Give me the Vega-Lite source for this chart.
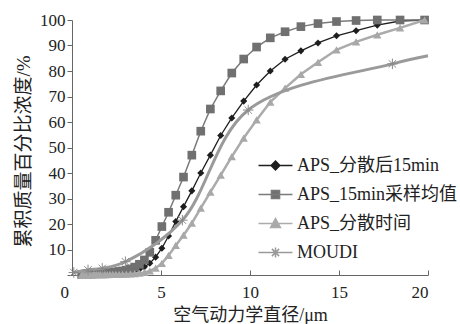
{
  "$schema": "https://vega.github.io/schema/vega-lite/v6.json",
  "width": 356,
  "height": 255,
  "autosize": {"type": "none"},
  "padding": {"left": 72, "top": 20, "right": 32, "bottom": 49},
  "background": "white",
  "config": {
    "view": {"stroke": null},
    "axis": {"grid": false, "labelFont": "Liberation Serif", "labelFontSize": 17, "labelColor": "#222", "titleFont": "Liberation Serif, Noto Sans CJK SC", "titleFontSize": 18, "titleFontWeight": "normal", "titleColor": "#222", "domainColor": "#666", "tickColor": "#666"},
    "legend": {"labelFont": "Liberation Serif, Noto Sans CJK SC", "labelFontSize": 18, "labelColor": "#222", "labelLimit": 400, "padding": 0, "rowPadding": 4, "labelOffset": 6, "symbolSize": 841}
  },
  "datasets": {
    "pts": [
      {"series": "D", "d": 0.542, "v": 0.0}, {"series": "D", "d": 0.583, "v": 0.0}, {"series": "D", "d": 0.626, "v": 0.0}, {"series": "D", "d": 0.673, "v": 0.0}, {"series": "D", "d": 0.723, "v": 0.0}, {"series": "D", "d": 0.777, "v": 0.1}, {"series": "D", "d": 0.835, "v": 0.1}, {"series": "D", "d": 0.898, "v": 0.1}, {"series": "D", "d": 0.965, "v": 0.1}, {"series": "D", "d": 1.037, "v": 0.1}, {"series": "D", "d": 1.114, "v": 0.1}, {"series": "D", "d": 1.197, "v": 0.2}, {"series": "D", "d": 1.286, "v": 0.2}, {"series": "D", "d": 1.382, "v": 0.2}, {"series": "D", "d": 1.486, "v": 0.2}, {"series": "D", "d": 1.596, "v": 0.3}, {"series": "D", "d": 1.715, "v": 0.3}, {"series": "D", "d": 1.843, "v": 0.3}, {"series": "D", "d": 1.981, "v": 0.4}, {"series": "D", "d": 2.129, "v": 0.4}, {"series": "D", "d": 2.288, "v": 0.5}, {"series": "D", "d": 2.458, "v": 0.6}, {"series": "D", "d": 2.642, "v": 0.7}, {"series": "D", "d": 2.839, "v": 0.8}, {"series": "D", "d": 3.051, "v": 1.0}, {"series": "D", "d": 3.278, "v": 1.3}, {"series": "D", "d": 3.523, "v": 1.7}, {"series": "D", "d": 3.786, "v": 2.3}, {"series": "D", "d": 4.068, "v": 3.2}, {"series": "D", "d": 4.371, "v": 4.6}, {"series": "D", "d": 4.698, "v": 7.0}, {"series": "D", "d": 5.048, "v": 10.5}, {"series": "D", "d": 5.425, "v": 15.3}, {"series": "D", "d": 5.829, "v": 21.0}, {"series": "D", "d": 6.264, "v": 26.8}, {"series": "D", "d": 6.732, "v": 33.0}, {"series": "D", "d": 7.234, "v": 40.0}, {"series": "D", "d": 7.774, "v": 47.0}, {"series": "D", "d": 8.354, "v": 54.7}, {"series": "D", "d": 8.977, "v": 61.6}, {"series": "D", "d": 9.647, "v": 68.2}, {"series": "D", "d": 10.37, "v": 74.5}, {"series": "D", "d": 11.14, "v": 80.0}, {"series": "D", "d": 11.97, "v": 84.6}, {"series": "D", "d": 12.86, "v": 87.9}, {"series": "D", "d": 13.82, "v": 91.0}, {"series": "D", "d": 14.86, "v": 93.8}, {"series": "D", "d": 15.96, "v": 95.8}, {"series": "D", "d": 17.15, "v": 98.0}, {"series": "D", "d": 18.43, "v": 99.6}, {"series": "D", "d": 19.81, "v": 100},
      {"series": "S", "d": 0.542, "v": 0.2}, {"series": "S", "d": 0.583, "v": 0.2}, {"series": "S", "d": 0.626, "v": 0.2}, {"series": "S", "d": 0.673, "v": 0.3}, {"series": "S", "d": 0.723, "v": 0.3}, {"series": "S", "d": 0.777, "v": 0.3}, {"series": "S", "d": 0.835, "v": 0.3}, {"series": "S", "d": 0.898, "v": 0.4}, {"series": "S", "d": 0.965, "v": 0.4}, {"series": "S", "d": 1.037, "v": 0.4}, {"series": "S", "d": 1.114, "v": 0.5}, {"series": "S", "d": 1.197, "v": 0.5}, {"series": "S", "d": 1.286, "v": 0.5}, {"series": "S", "d": 1.382, "v": 0.6}, {"series": "S", "d": 1.486, "v": 0.6}, {"series": "S", "d": 1.596, "v": 0.7}, {"series": "S", "d": 1.715, "v": 0.7}, {"series": "S", "d": 1.843, "v": 0.8}, {"series": "S", "d": 1.981, "v": 0.9}, {"series": "S", "d": 2.129, "v": 1.0}, {"series": "S", "d": 2.288, "v": 1.1}, {"series": "S", "d": 2.458, "v": 1.2}, {"series": "S", "d": 2.642, "v": 1.4}, {"series": "S", "d": 2.839, "v": 1.6}, {"series": "S", "d": 3.051, "v": 1.9}, {"series": "S", "d": 3.278, "v": 2.4}, {"series": "S", "d": 3.523, "v": 3.1}, {"series": "S", "d": 3.786, "v": 4.2}, {"series": "S", "d": 4.068, "v": 5.9}, {"series": "S", "d": 4.371, "v": 8.9}, {"series": "S", "d": 4.698, "v": 13.6}, {"series": "S", "d": 5.048, "v": 19.0}, {"series": "S", "d": 5.425, "v": 24.6}, {"series": "S", "d": 5.829, "v": 31.3}, {"series": "S", "d": 6.264, "v": 38.4}, {"series": "S", "d": 6.732, "v": 47.0}, {"series": "S", "d": 7.234, "v": 56.4}, {"series": "S", "d": 7.774, "v": 65.1}, {"series": "S", "d": 8.354, "v": 72.2}, {"series": "S", "d": 8.977, "v": 79.2}, {"series": "S", "d": 9.647, "v": 84.7}, {"series": "S", "d": 10.37, "v": 89.4}, {"series": "S", "d": 11.14, "v": 93.0}, {"series": "S", "d": 11.97, "v": 95.4}, {"series": "S", "d": 12.86, "v": 97.4}, {"series": "S", "d": 13.82, "v": 98.6}, {"series": "S", "d": 14.86, "v": 99.4}, {"series": "S", "d": 15.96, "v": 99.8}, {"series": "S", "d": 17.15, "v": 100}, {"series": "S", "d": 18.43, "v": 100}, {"series": "S", "d": 19.81, "v": 100},
      {"series": "T", "d": 0.542, "v": 0.0}, {"series": "T", "d": 0.583, "v": 0.0}, {"series": "T", "d": 0.626, "v": 0.0}, {"series": "T", "d": 0.673, "v": 0.0}, {"series": "T", "d": 0.723, "v": 0.0}, {"series": "T", "d": 0.777, "v": 0.0}, {"series": "T", "d": 0.835, "v": 0.0}, {"series": "T", "d": 0.898, "v": 0.0}, {"series": "T", "d": 0.965, "v": 0.0}, {"series": "T", "d": 1.037, "v": 0.0}, {"series": "T", "d": 1.114, "v": 0.0}, {"series": "T", "d": 1.197, "v": 0.1}, {"series": "T", "d": 1.286, "v": 0.1}, {"series": "T", "d": 1.382, "v": 0.1}, {"series": "T", "d": 1.486, "v": 0.1}, {"series": "T", "d": 1.596, "v": 0.1}, {"series": "T", "d": 1.715, "v": 0.1}, {"series": "T", "d": 1.843, "v": 0.1}, {"series": "T", "d": 1.981, "v": 0.1}, {"series": "T", "d": 2.129, "v": 0.2}, {"series": "T", "d": 2.288, "v": 0.2}, {"series": "T", "d": 2.458, "v": 0.2}, {"series": "T", "d": 2.642, "v": 0.2}, {"series": "T", "d": 2.839, "v": 0.3}, {"series": "T", "d": 3.051, "v": 0.3}, {"series": "T", "d": 3.278, "v": 0.4}, {"series": "T", "d": 3.523, "v": 0.5}, {"series": "T", "d": 3.786, "v": 0.7}, {"series": "T", "d": 4.068, "v": 1.0}, {"series": "T", "d": 4.371, "v": 1.6}, {"series": "T", "d": 4.698, "v": 2.7}, {"series": "T", "d": 5.048, "v": 4.6}, {"series": "T", "d": 5.425, "v": 7.7}, {"series": "T", "d": 5.829, "v": 11.6}, {"series": "T", "d": 6.264, "v": 15.6}, {"series": "T", "d": 6.732, "v": 20.3}, {"series": "T", "d": 7.234, "v": 26.2}, {"series": "T", "d": 7.774, "v": 32.5}, {"series": "T", "d": 8.354, "v": 39.2}, {"series": "T", "d": 8.977, "v": 46.4}, {"series": "T", "d": 9.647, "v": 53.7}, {"series": "T", "d": 10.37, "v": 60.8}, {"series": "T", "d": 11.14, "v": 67.8}, {"series": "T", "d": 11.97, "v": 73.3}, {"series": "T", "d": 12.86, "v": 78.7}, {"series": "T", "d": 13.82, "v": 83.4}, {"series": "T", "d": 14.86, "v": 88.3}, {"series": "T", "d": 15.96, "v": 91.4}, {"series": "T", "d": 17.15, "v": 94.2}, {"series": "T", "d": 18.43, "v": 96.9}, {"series": "T", "d": 19.81, "v": 100},
      {"series": "M", "d": 0.1, "v": 1.0}, {"series": "M", "d": 0.9, "v": 2.0}, {"series": "M", "d": 1.7, "v": 2.6}, {"series": "M", "d": 3.0, "v": 5.2}, {"series": "M", "d": 6.2, "v": 21.5}, {"series": "M", "d": 9.9, "v": 64.7}, {"series": "M", "d": 18.0, "v": 82.8}, {"series": "M", "d": 20.0, "v": 86.0}
    ]
  },
  "data": {"name": "pts"},
  "encoding": {
    "x": {"field": "d", "type": "quantitative", "scale": {"domain": [0, 20], "nice": false},
      "axis": {"values": [0, 5, 10, 15, 20], "tickSize": -5, "labelPadding": 14, "title": "空气动力学直径/μm", "titlePadding": 6,
        "labelOffset": {"condition": {"test": "datum.value === 0", "value": -12}, "value": 0}}},
    "y": {"field": "v", "type": "quantitative", "scale": {"domain": [0, 100], "nice": false},
      "axis": {"values": [0, 10, 20, 30, 40, 50, 60, 70, 80, 90, 100], "labelExpr": "datum.value === 0 ? '' : datum.label", "tickSize": 5, "labelPadding": 2, "title": "累积质量百分比浓度/%", "titlePadding": 6, "titleFontSize": 19, "titleY": 131}}
  },
  "layer": [
    {"transform": [{"filter": "datum.series === 'D'"}], "mark": {"type": "line", "color": "#1e1e1e", "strokeWidth": 1.3}},
    {"transform": [{"filter": "datum.series === 'D'"}], "mark": {"type": "point", "shape": "diamond", "filled": true, "color": "#1e1e1e", "opacity": 1, "size": 50}},
    {"transform": [{"filter": "datum.series === 'S'"}], "mark": {"type": "line", "color": "#7a7a7a", "strokeWidth": 1.5}},
    {"transform": [{"filter": "datum.series === 'S'"}], "mark": {"type": "point", "shape": "square", "filled": true, "color": "#707070", "opacity": 1, "size": 75}},
    {"transform": [{"filter": "datum.series === 'T'"}], "mark": {"type": "line", "color": "#ababab", "strokeWidth": 2.5}},
    {"transform": [{"filter": "datum.series === 'T'"}], "mark": {"type": "point", "shape": "triangle-up", "filled": true, "color": "#a8a8a8", "opacity": 1, "size": 70}},
    {"transform": [{"filter": "datum.series === 'M'"}], "mark": {"type": "line", "color": "#9a9a9a", "strokeWidth": 3, "interpolate": "catmull-rom"}},
    {"transform": [{"filter": "datum.series === 'M' && datum.d < 19.5"}], "mark": {"type": "point", "shape": "M-1,0H1M0,-1V1M-0.7,-0.7L0.7,0.7M-0.7,0.7L0.7,-0.7", "filled": false, "color": "#8a8a8a", "strokeWidth": 1, "opacity": 1, "size": 110}},
    {"transform": [{"filter": "false"}], "mark": {"type": "point", "filled": true, "opacity": 1},
      "encoding": {
        "fill": {"field": "series", "type": "nominal", "scale": {"domain": ["D", "S", "T", "M"], "range": ["#1e1e1e", "#707070", "#a8a8a8", "#9a9a9a"]},
          "legend": {"title": null, "orient": "none", "legendX": 188, "legendY": 130, "symbolSize": 841, "labelExpr": "{'D': 'APS_分散后15min', 'S': 'APS_15min采样均值', 'T': 'APS_分散时间', 'M': 'MOUDI'}[datum.value]"}},
        "stroke": {"field": "series", "type": "nominal", "scale": {"domain": ["D", "S", "T", "M"], "range": ["#1e1e1e", "#7a7a7a", "#ababab", "#9a9a9a"]},
          "legend": {"title": null, "orient": "none", "legendX": 188, "legendY": 130, "symbolSize": 841, "labelExpr": "{'D': 'APS_分散后15min', 'S': 'APS_15min采样均值', 'T': 'APS_分散时间', 'M': 'MOUDI'}[datum.value]"}},
        "shape": {"field": "series", "type": "nominal", "scale": {"domain": ["D", "S", "T", "M"], "range": [
          "M-1.17,0H1.17M0,-0.3L0.3,0L0,0.3L-0.3,0Z",
          "M-1.17,0H1.17M-0.28,-0.28H0.28V0.28H-0.28Z",
          "M-1.17,0H1.17M0,-0.34L0.34,0.28H-0.34Z",
          "M-1.17,0H1.17M0,-0.34V0.34M-0.25,-0.25L0.25,0.25M-0.25,0.25L0.25,-0.25"]},
          "legend": {"title": null, "orient": "none", "legendX": 188, "legendY": 130, "symbolSize": 841, "labelExpr": "{'D': 'APS_分散后15min', 'S': 'APS_15min采样均值', 'T': 'APS_分散时间', 'M': 'MOUDI'}[datum.value]"}}
      }}
  ]
}
